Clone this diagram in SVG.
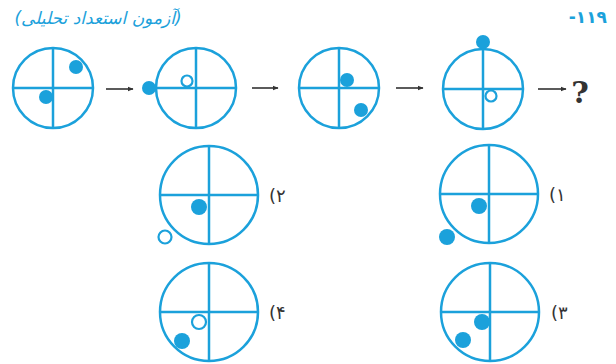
<svg xmlns="http://www.w3.org/2000/svg" width="616" height="364" viewBox="0 0 616 364">
<style>
.ring{fill:none;stroke:#1ba1db;stroke-width:2.5}
.ln{stroke:#1ba1db;stroke-width:2.5}
.dot{fill:#1ba1db}
.hol{fill:#fff;stroke:#1ba1db;stroke-width:2.2}
.arr{stroke:#333;stroke-width:1.6;marker-end:url(#ah)}
.lbl{font-family:"DejaVu Sans",sans-serif;font-size:18px;fill:#333}
</style>
<defs>
<marker id="ah" viewBox="0 0 10 10" refX="9" refY="5" markerWidth="6" markerHeight="6" markerUnits="userSpaceOnUse" orient="auto"><path d="M0,1 L10,5 L0,9 z" fill="#333"/></marker>
<g id="q">
<circle class="ring" cx="0" cy="0" r="40"/>
<line class="ln" x1="-40" y1="0" x2="40" y2="0"/>
<line class="ln" x1="0" y1="-40" x2="0" y2="40"/>
</g>
<g id="o">
<circle class="ring" cx="0" cy="0" r="49"/>
<line class="ln" x1="-49" y1="0" x2="49" y2="0"/>
<line class="ln" x1="0" y1="-49" x2="0" y2="49"/>
</g>
</defs>
<rect width="616" height="364" fill="#fff"/>
<text id="title" x="98" y="24" direction="rtl" text-anchor="middle" style="font-family:'DejaVu Sans',sans-serif;font-size:17px;font-style:italic;fill:#1ba1db">(آزمون استعداد تحلیلی)</text>
<text id="num" x="607" y="23" text-anchor="end" style="font-family:'DejaVu Sans',sans-serif;font-size:17px;font-weight:bold;fill:#1ba1db">-۱۱۹</text>
<g id="f1"><use href="#q" x="53" y="88"/><circle class="dot" cx="76" cy="67" r="7"/><circle class="dot" cx="46" cy="97" r="7"/></g>
<g id="f2"><use href="#q" x="196" y="88"/><circle class="dot" cx="149" cy="88" r="7"/><circle class="hol" cx="187" cy="81" r="5.5"/></g>
<g id="f3"><use href="#q" x="339" y="88"/><circle class="dot" cx="347" cy="80" r="7"/><circle class="dot" cx="361" cy="110" r="7"/></g>
<g id="f4"><use href="#q" x="483" y="89"/><circle class="dot" cx="483" cy="42" r="7"/><circle class="hol" cx="491" cy="96" r="5.5"/></g>
<g id="connectors">
<line class="arr" x1="106" y1="89" x2="133" y2="89"/>
<line class="arr" x1="252" y1="88" x2="278" y2="88"/>
<line class="arr" x1="396" y1="88" x2="423" y2="88"/>
<line class="arr" x1="538" y1="89" x2="566" y2="89"/>
</g>
<text id="qm" x="580" y="103" text-anchor="middle" style="font-family:'DejaVu Serif',serif;font-size:30px;font-weight:bold;fill:#333">?</text>
<g id="opt1"><use href="#o" x="489" y="194"/><circle class="dot" cx="479" cy="206" r="8"/><circle class="dot" cx="447" cy="237" r="8"/><text class="lbl" x="549" y="201">(۱</text></g>
<g id="opt2"><use href="#o" x="209" y="195"/><circle class="dot" cx="199" cy="207" r="8"/><circle class="hol" cx="165" cy="237" r="6.5"/><text class="lbl" x="269" y="202">(۲</text></g>
<g id="opt3"><use href="#o" x="490" y="312"/><circle class="dot" cx="482" cy="322" r="8"/><circle class="dot" cx="463" cy="340" r="8"/><text class="lbl" x="551" y="319">(۳</text></g>
<g id="opt4"><use href="#o" x="209" y="312"/><circle class="hol" cx="199" cy="322" r="7"/><circle class="dot" cx="182" cy="341" r="8"/><text class="lbl" x="269" y="319">(۴</text></g>
</svg>
